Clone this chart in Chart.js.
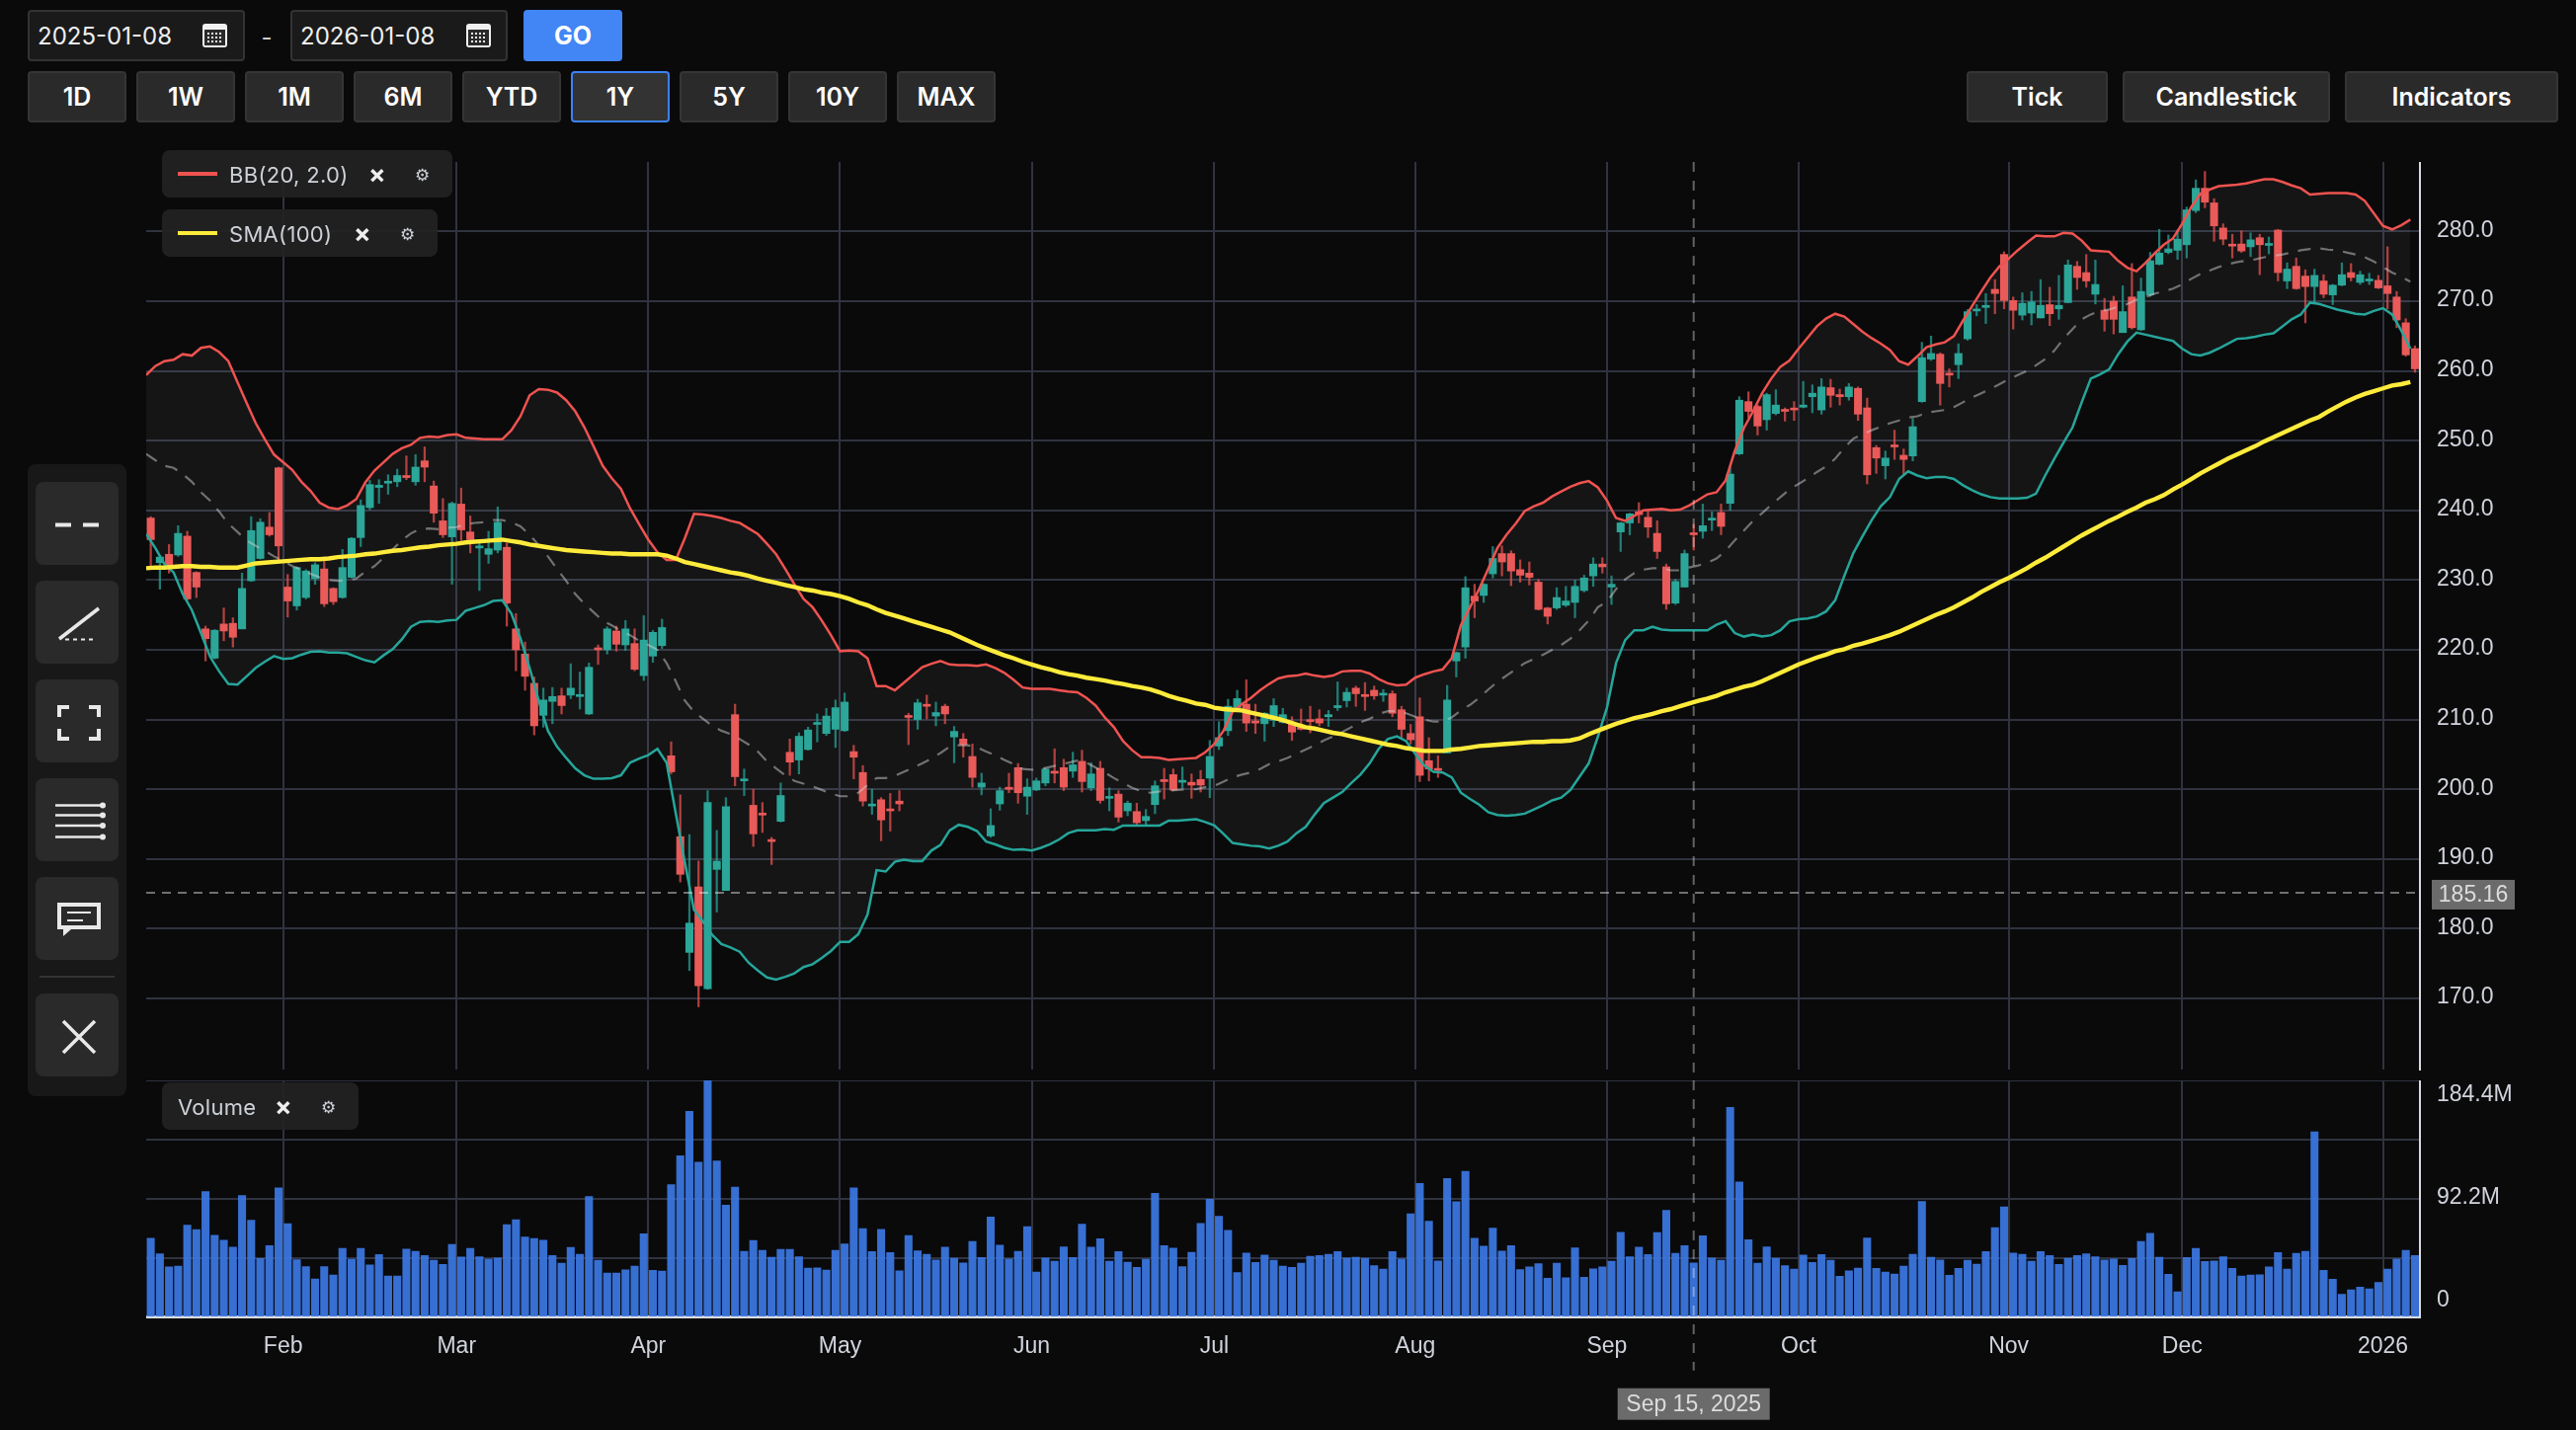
<!DOCTYPE html>
<html><head><meta charset="utf-8">
<style>
html,body{margin:0;padding:0;background:#0a0a0b;width:2608px;height:1448px;overflow:hidden;font-family:Inter,sans-serif}
.a{position:absolute;box-sizing:border-box}
.inp{background:#1a1a1a;border:2px solid #333;border-radius:4px;color:#f0f0f0;font-size:24px;line-height:50px;padding-left:8px}
.btn{background:#2a2a2a;border:2px solid #353535;border-radius:4px;color:#fff;font-size:25px;font-weight:600;text-align:center;line-height:49px}
.btn.on{background:#333;border-color:#3b82f6}
.go{background:#4285f4;border-radius:4px;color:#fff;font-size:25px;font-weight:700;text-align:center;line-height:53px}
.pill{background:rgba(34,34,34,.93);border-radius:8px;color:#cdd1d8;font-size:22px;letter-spacing:.3px;z-index:5}
.pill span{position:absolute;top:0;line-height:50px;white-space:nowrap}
.pill i{position:absolute;top:22px;height:4px;left:16px;width:40px}
canvas{position:absolute;display:block}
svg{position:absolute;left:0;top:0;z-index:6;pointer-events:none}
</style></head><body>
<canvas id="mainChart" style="left:148px;top:164px" width="2460" height="930"></canvas>
<canvas id="volChart" style="left:148px;top:1094px" width="2460" height="354"></canvas>

<div class="a inp" style="left:28px;top:10px;width:220px;height:52px">2025-01-08</div>
<div class="a" style="left:262px;top:10px;width:16px;color:#ccc;font-size:24px;line-height:56px;text-align:center">-</div>
<div class="a inp" style="left:294px;top:10px;width:220px;height:52px">2026-01-08</div>
<div class="a go" style="left:530px;top:10px;width:100px;height:52px">GO</div>
<div id="rangeRow"></div>
<div class="a btn" style="left:1991px;top:72px;width:143px;height:52px">Tick</div>
<div class="a btn" style="left:2149px;top:72px;width:210px;height:52px">Candlestick</div>
<div class="a btn" style="left:2374px;top:72px;width:216px;height:52px">Indicators</div>

<div class="a pill" style="left:164px;top:152px;width:294px;height:48px"><i style="background:#ef5350"></i><span style="left:68px">BB(20, 2.0)</span><span style="left:209px;font-weight:700;font-size:26px;color:#eee">×</span><span style="left:256px;font-size:17px">⚙</span></div>
<div class="a pill" style="left:164px;top:212px;width:279px;height:48px"><i style="background:#ffeb3b"></i><span style="left:68px">SMA(100)</span><span style="left:194px;font-weight:700;font-size:26px;color:#eee">×</span><span style="left:241px;font-size:17px">⚙</span></div>
<div class="a pill" style="left:164px;top:1096px;width:199px;height:48px"><span style="left:16px">Volume</span><span style="left:114px;font-weight:700;font-size:26px;color:#eee">×</span><span style="left:161px;font-size:17px">⚙</span></div>

<svg width="2608" height="1448" viewBox="0 0 2608 1448">
 <g fill="#f0f0f0"><rect x="205" y="24" width="25" height="24" rx="3"/><rect x="472" y="24" width="25" height="24" rx="3"/></g>
 <g fill="#2a2a2a"><rect x="207" y="30" width="21" height="16"/><rect x="474" y="30" width="21" height="16"/></g>
 <g stroke="#f0f0f0" stroke-width="2" stroke-dasharray="2 2" fill="none">
  <path d="M210 34H226M210 38H226M210 42H226M477 34H493M477 38H493M477 42H493"/>
 </g>

 <rect x="28" y="470" width="100" height="640" rx="8" fill="#181818"/>
 <g fill="#2a2a2a">
  <rect x="36" y="488" width="84" height="84" rx="8"/>
  <rect x="36" y="588" width="84" height="84" rx="8"/>
  <rect x="36" y="688" width="84" height="84" rx="8"/>
  <rect x="36" y="788" width="84" height="84" rx="8"/>
  <rect x="36" y="888" width="84" height="84" rx="8"/>
  <rect x="36" y="1006" width="84" height="84" rx="8"/>
 </g>
 <line x1="40" y1="989" x2="116" y2="989" stroke="#333" stroke-width="2"/>
 <g stroke="#e8e8e8" fill="none">
  <path d="M56 531.5H72M84 531.5H100" stroke-width="4"/>
  <path d="M60 647L100 616" stroke-width="3.5"/>
  <path d="M66 647.5H96" stroke-width="2" stroke-dasharray="4 4"/>
  <path d="M70 716H60V726M90 716H100V726M60 738V748H70M100 738V748H90" stroke-width="4"/>
  <path d="M56 815.5H104M56 825.5H104M56 836H104M56 847.5H104" stroke-width="2.5"/>
  <rect x="60" y="916" width="40" height="23" stroke-width="4"/>
  <path d="M68 924H92M68 932H84" stroke-width="2"/>
  <path d="M64 1034L96 1066M96 1034L64 1066" stroke-width="3.5"/>
 </g>
 <g fill="#e8e8e8"><circle cx="104" cy="815.5" r="3"/><circle cx="104" cy="825.5" r="3"/><circle cx="104" cy="836" r="3"/><circle cx="104" cy="847.5" r="3"/><path d="M64 941L72 941L64 948Z"/></g>
</svg>

<script src="https://cdn.jsdelivr.net/npm/chart.js@4"></script>
<script>
const rangeButtons=['1D','1W','1M','6M','YTD','1Y','5Y','10Y','MAX'];
const activeRange='1Y';

const monthTicks=[14.5,33.5,54.5,75.5,96.5,116.5,138.5,159.5,180.5,203.5,222.5,244.5];
const monthLabels=['Feb','Mar','Apr','May','Jun','Jul','Aug','Sep','Oct','Nov','Dec','2026'];
const priceTicks=[170,180,190,200,210,220,230,240,250,260,270,280];
const volumeTicks=[0,46.1,92.2,138.3,184.4];
const volumeTickLabels=['0','','92.2M','','184.4M'];

const refPrice=185.16;
const refPriceLabel='185.16';
const crossIndex=169;
const crossLabel='Sep 15, 2025';

const candleOpen=[238.9,232.5,233.7,233.6,236.3,231.1,223,218.8,223.7,223.8,
223,229.9,233.1,237.6,246.1,229,226.3,227.5,230.2,231.6,
228.8,227.5,230.4,236.1,240.4,243.3,243.9,244.1,245,244.1,
247.1,243.5,238.5,236.2,240.9,236.9,234.6,233.7,234.3,234.7,
223,219.4,215.2,210.6,212.6,213.4,213.5,213.3,210.8,220.2,
220,222.7,220.7,220.9,216.3,219.1,220.6,204.8,193.2,176.6,
186,171.4,188.5,185.5,210.7,201.2,197.7,196.5,192.6,195.4,
205.3,204.2,205.7,209.3,208,208.6,208.4,205.4,202.4,197.6,
198.5,197,198.3,210.5,210,212,210.5,211.9,207.5,207.2,
204.7,200.3,193.3,197.9,200.1,203.1,199,199.9,200.9,202.5,
203.1,202.6,204,200.2,203,198.7,199.3,196.9,196.8,195.5,
197.8,201.2,202.1,201,201,201.4,201.6,206.2,208.4,211.7,
212.2,209.7,209.4,209.9,209.6,209.6,208.8,209.8,210.1,210.4,
211.7,212.7,214.5,213.5,214.2,213.5,213.7,211.4,208,210.4,
204.1,202.9,205.2,218.4,220.4,227.7,227.8,230.9,233.8,233.8,
231.5,231,229.7,226,226,226.4,226.8,228.5,230.6,232.3,
229,236.9,238.2,239.8,239,236.7,231.9,226.7,229,236.7,
237,238.6,239.7,241,248.1,255.6,254.9,253,253.9,254.3,
254.5,254.8,256.3,254.4,257.6,256.6,256.3,257.5,254.7,249,
246.4,249.2,247.9,247.8,255.6,261.7,262.4,259.6,260.9,264.6,
268.6,269.1,271.7,276.7,270.1,268,268.3,267.6,269.5,268.9,
269.8,275,274.1,271,268.7,270,265.5,270.6,265.9,270.9,
275.3,277,277.3,278.1,283,286.2,284.1,280.5,278.1,278.2,
277.8,279.1,278,280.2,272.9,275,273.6,272.1,272.9,270.9,
272.3,274.1,272.7,272.9,273,272.2,270.6,266.9,263.2];

const candleClose=[235.8,233.3,232.2,236.7,227.3,229,221.6,222.8,222.7,221.8,
228.8,237.1,238.3,236.5,234.9,227,231.8,231.3,232.2,226.6,
226.9,231.8,236,240.7,243.7,243.6,244,245,244.7,246.2,
246.2,239.6,236.5,241,237.2,235.8,234.9,234.5,238.3,226.7,
220,216.2,209.1,212.8,213.3,212,214.5,213.4,217.5,220,
223,220.8,223,217.2,221.4,222.5,223.2,202.5,187.8,180.8,
171.8,198.1,189.7,197.5,201.8,201.4,193.6,196.3,192.5,199.1,
203.9,207.6,208.5,209.5,210.5,211.7,212.5,204.6,198.3,197.8,
195.6,196.9,197.9,210.3,212.4,211.9,211,210.8,208.3,206.4,
201.7,200.9,194.8,199.8,200,199.5,200.3,201.2,202.9,202.3,
200.3,203.5,201.1,202.2,198.4,198.8,196,198,195.2,196.1,
200.5,201.1,199.9,201.1,200.6,200.6,204.7,207.4,211.9,213,
209.5,209.5,210.9,212,210.7,208.2,208.6,209.7,209.5,210.7,
212,213.9,213.7,213.3,213.4,213.6,210.9,208.6,207.1,202,
202.9,202.7,212.8,219.6,228.9,227,229.4,233.1,232.6,231.3,
230.7,230.4,225.8,224.8,227.5,227,229.1,230.3,232.3,231.9,
229.4,238.2,239.5,239.4,237.6,234.1,226.6,229.8,233.8,236.5,
237.8,238.7,237.7,245.2,255.8,254.2,252.1,256.6,255.1,254.2,
254.4,255.1,256.8,257.7,256.5,256.3,257.7,253.8,245.1,247.5,
247.5,249.1,247.3,252,261.9,262.5,258.2,259.4,262.5,268.5,
268.7,269.4,271.1,270.1,268.7,269.7,269.9,269.4,268.2,269.4,
275.2,273.4,272.9,272.4,267.4,267.4,268.5,266.2,271.4,275.8,
276.9,277.5,278.9,283.1,286.2,284.2,280.8,278.9,277.9,277.2,
278.8,278.1,278.2,274.1,274.6,271.8,272.1,273.7,271,272.3,
273.8,273.4,273.8,273,271.9,271.1,267.3,262.3,260.3];

const candleHigh=[239.1,233.4,235.1,237.8,237,231.2,223.4,222.9,226,224.6,
231,239.1,238.8,239.7,246.2,230.8,231.9,231.5,232.5,232.7,
228.9,234.4,236.1,241.5,244.3,244.4,245.1,245.9,247.8,248,
249.1,244.2,241.7,241.2,243.2,239.2,235.6,237,240.5,235.3,
225.2,221.1,216.1,214.5,214.6,214.5,218,216.8,218.1,220.7,
223.3,223.4,224.2,223,224.9,222.8,224.4,206.8,199.2,193.5,
189.7,199.8,194.1,198.8,212.2,202.9,200,198.1,193.1,200.9,
207.2,208.1,208.9,210.8,211.6,212.8,213.8,206.3,203.4,200,
198.8,199.4,199.8,210.9,212.9,213.5,212.5,212.2,209,208,
206.5,202.3,197.2,200.3,202.3,203.7,201.5,201.6,203,205.8,
204.3,205.3,205.6,203.8,204,200.2,199.8,198.3,198,197.1,
201.2,203,202.9,203.2,202.2,202.7,207,209.7,212.9,214.2,
215.7,212.2,211,213,211.6,210.4,211.5,211.9,211.4,211.3,
215.4,214.5,214.8,215.3,214.8,214.3,214.1,211.9,209.3,213.1,
207.4,204.8,214.9,219.7,230.5,229.4,229.5,234.8,234.9,234.2,
232.9,232.6,230.1,226.1,228.9,229.1,230,230.7,233.2,233.2,
230.6,238.3,239.6,241.1,240,238.5,232.3,230.1,234.3,238,
240.9,239.8,240.9,246.2,256.3,257,255.1,256.8,257.3,254.7,
255.6,258.5,258,258.9,258.8,257.4,258.2,257.7,256.1,249.3,
248.5,251.5,248.8,253.2,264.1,265,262.6,260.3,263.9,268.8,
269.5,271.1,273.1,277.1,270.6,271.2,271.4,273.1,272,273.7,
275.9,275.7,276.7,275.9,270.4,270.7,272.2,275.4,273.3,277,
280.3,279.5,280.2,283.5,287.4,288.6,284.7,281.1,279.6,280.1,
279.8,279.6,279.2,280.3,275.5,276.2,274.5,274.6,273.8,272.4,
275.5,275.4,274.3,274,273.7,277.8,271.4,267.5,263.6];

const candleLow=[232,228.7,231,233.4,227.1,227.5,218.4,218.7,221.3,220.4,
223,229.8,233,236.3,232.9,224.7,225.7,227.3,229.4,226.2,
226.5,227.4,230.3,234.8,240.1,241,242.3,243.4,244.4,243.6,
244.1,238.3,236.1,229.4,235.7,233.9,228.5,232.4,233.9,223.4,
217,214.2,207.8,208.9,209.4,210.8,213,211.5,210.7,217.9,
219.4,219.8,219.9,217,215.6,218.2,220.2,202.2,186.7,174,
168.8,171.3,182.4,185.5,200.5,199.1,191.8,193.8,189.2,195.3,
202,202.2,205.6,206.8,207.7,206,208.3,201.5,197.6,196.4,
192.6,194,196.9,206.4,208.6,210.1,209.1,209.4,203.8,204.6,
200.3,199.2,193.1,197,199.5,198,196.4,199.8,200.5,200.9,
199.8,201.7,199.6,199.8,198,196.9,195.3,196.2,194.9,194.9,
196.5,198.6,199.8,200.2,198.7,199.6,198.8,205.7,207.7,211.5,
208.3,208,206.9,209,209.5,207,208.5,208.1,209.1,209,
211.3,211.8,211.9,211.3,212.9,212.6,210.4,207.4,206.5,201.1,
201.2,201.7,205.2,216.1,218.8,224.6,226.8,230.3,230.6,229.2,
229.7,229.3,225.7,223.7,225.8,226.2,224.6,228.3,229.1,231,
226.5,234.1,236.5,238.2,236.1,233.1,225.8,226.5,229,234.3,
236,237.1,236.5,240,248,253.3,250.8,251.5,253.7,252.8,
252.9,254.7,254,253.8,254.8,255.1,255.8,252.9,243.8,245.3,
244.5,247.3,245.2,247.1,255.5,261.5,255.1,257.7,258.9,264.4,
267.9,266.8,268.2,268.9,266,267.3,266.6,267.6,266.5,267.4,
269.8,271.7,272,269.6,265.7,265.3,265.5,266,265.8,270.7,
275.2,276.8,276,276.2,282.7,283.4,278.6,278.1,276.2,277,
276.4,273.8,276.8,272.9,271.8,271.7,266.9,269.9,270.5,269.5,
272.2,272.9,272.4,272.4,271.8,268.9,266.2,262.1,259.8];

const bbUpper=[259.4,260.7,261.4,261.6,262.4,262.2,263.3,263.5,262.7,261.4,
258.4,255.4,252.5,250.2,248,246.9,245.8,244.1,242.8,241.1,
240.4,240.2,240.7,241.6,244,245.7,246.9,248.1,248.9,249.4,
250.4,250.6,250.5,250.8,250.9,250.4,250.3,250.2,250.2,250.2,
251.5,253.5,256.5,257.4,257.3,256.9,255.8,254.2,251.9,249.2,
246.4,244.6,243.1,240.3,238,235.8,234,232.9,232.9,236,
239.5,239.4,239.2,238.9,238.5,238.2,237.4,236.6,235.2,233.7,
231.6,229.4,227.3,226.1,224.2,222.1,219.8,219.9,219.8,218.8,
214.8,214.8,214.2,215.3,216.4,217.5,218,218.4,217.9,217.8,
217.8,217.7,217.9,217.4,216.7,215.7,214.6,214.4,214.4,214.4,
214.2,214,213.9,213.1,212,210.3,208.9,206.9,205.6,204.6,
204.6,204.5,204.2,204.3,204.4,204.5,205.3,206.5,208.4,211.1,
212.2,213.1,214.2,215.1,215.9,216.2,216.3,216.6,216.3,216.1,
216.3,216.9,217,217,216.6,215.8,215.2,214.9,215,216,
216.5,216.9,217.2,218.8,223.5,226.1,228.7,231.6,234.6,236.5,
238.1,239.9,240.6,241.1,242,242.7,243.4,243.9,244.2,243.3,
241.4,238.9,238.5,239.2,240,240.1,240.2,240,240.1,240.7,
241.5,242.3,242.6,244.3,248.5,251.8,254.2,256.8,258.9,260.6,
261.5,263.2,264.8,266.4,267.5,268.2,267.8,266.7,265.6,264.7,
263.9,263,261.4,260.9,262.1,263.4,263.8,264.1,265,267.2,
269.3,271.4,273.4,275,276.1,277.3,278.4,279.4,279.3,279.3,
279.8,279.7,278.7,277.3,277.2,277.1,275.8,274.8,274.3,275.5,
276.9,278.1,279,281.1,283.5,285.4,286,286.5,286.6,286.7,
286.9,287.2,287.5,287.5,287.1,286.6,286.2,285.3,285.4,285.5,
285.5,285.5,285.3,284.4,282.6,280.8,280.3,280.9,281.7];

const bbLower=[236.6,234.6,232.3,231.1,228,225.7,222.4,219,216.9,215.1,
215,216.2,217.4,218.3,219.1,218.7,218.8,219.3,219.7,219.8,
219.6,219.6,219.5,219,218.5,218.2,219.2,220.1,221.5,223.3,
224,224.1,224,224.2,224.3,225.6,226,226.4,227,227.1,
225.2,221.6,217.4,212.7,208.4,206.1,204.5,203,202,201.5,
201.5,201.6,202,203.8,204.4,204.9,205.8,203.8,196.6,189.5,
182.7,181,179.1,177.8,177.3,176.7,175.1,174,173,172.7,
173.1,173.6,174.5,174.9,175.8,176.8,178.1,178.1,179.2,182,
188.4,188.2,189.6,189.9,189.7,189.7,191.2,192,194.1,194.9,
194.6,194,192.5,192.1,191.6,191.3,191.4,191.2,191.6,192.1,
192.8,193.7,194.1,194.1,194.1,194.3,194.2,194.8,194.8,194.8,
194.8,194.8,195.5,195.5,195.6,195.7,195.3,194.8,193.6,192.3,
192.1,191.9,191.8,191.5,191.9,192.5,193.7,194.6,196.4,198,
198.8,199.6,200.9,202.1,203.7,205.8,207.2,207.6,206.9,205.1,
203.4,202.5,202.4,201.7,199.5,198.6,197.8,196.7,196.3,196.2,
196.3,196.5,197.1,197.7,198.4,198.8,199.9,201.8,203.7,207.5,
211.7,218.1,221.4,222.8,222.8,223.3,222.9,222.8,222.8,222.8,
222.8,222.8,223.6,224.1,222.4,221.9,222.2,221.9,222.1,222.8,
224.1,224.4,224.5,224.8,225.5,227.1,230.6,233.9,236.3,238.6,
240.6,241.9,244.5,245.6,245,244.6,244.8,244.8,244.5,243.6,
242.9,242.3,241.9,241.7,241.7,241.7,241.8,242.4,245,247.4,
249.7,251.9,255.5,258.9,259.5,260.2,262.4,264.2,265.5,265.2,
264.9,264.6,264.3,263.2,262.4,262.2,262.6,263.2,263.9,264.6,
264.7,264.9,265.2,265.4,266.4,267.4,268.1,269.8,269.6,269.2,
268.8,268.5,268.2,268.1,268.6,269,268.1,265.8,263.2];

const bbMiddle=[248.1,247.2,246.4,246.1,245.2,244.1,242.6,241.4,239.8,238.1,
236.9,235.7,234.9,234.2,233.4,232.8,232,231.5,230.9,230.4,
230,229.9,230,230.2,231.2,232,233.2,234.4,235.7,236.7,
237.3,237.4,237.3,237.5,237.6,238,238.2,238.3,238.6,238.6,
238.3,237.7,236.5,235,233.4,231.6,229.9,228,226.6,225.4,
224.2,223.5,222.7,222.1,221.3,220.7,220,218.1,215.5,212.7,
211.1,210.1,209.1,208.4,207.9,207.2,206.4,205.4,204,203,
202,201.2,200.8,200.4,199.9,199.4,199,199,199.5,200.6,
201.6,201.6,201.9,202.5,203.1,203.7,204.4,205.2,206.1,206.3,
206.3,206,205.4,204.9,204.2,203.6,202.9,202.8,202.9,203.2,
203.5,203.8,204.1,203.8,203.1,202.4,201.6,200.9,200.2,199.7,
199.5,199.7,199.8,199.9,200,200,200.3,200.5,201.1,201.7,
202.1,202.4,202.9,203.6,204,204.5,205.1,205.7,206.3,207,
207.6,208.2,208.9,209.6,210.1,210.8,211.2,211.2,210.9,210.4,
210,209.7,209.7,210.3,211.3,212.1,213.1,214.3,215.4,216.3,
217.2,218.1,218.7,219.3,220,220.7,221.6,222.8,224.2,226.1,
226.9,228.7,230.1,231,231.5,231.7,231.7,231.4,231.4,231.8,
232.1,232.5,233.1,234.2,235.7,237.1,238.5,239.6,240.8,241.9,
243,243.8,244.6,245.5,246.3,247.4,249,250.3,250.9,251.5,
252,252.5,252.9,253.3,253.5,254,254.2,254.4,254.8,255.5,
256.2,256.8,257.4,258.1,258.8,259.4,260,260.8,261.7,262.9,
264.6,266,267.4,268.1,268.6,268.8,269.2,269.6,270.2,270.6,
271.1,271.4,271.8,272.4,273.2,273.9,274.4,274.9,275.3,275.6,
275.8,276,276.3,276.5,276.7,277,277.3,277.5,277.6,277.4,
277.3,277,276.7,276.3,275.7,274.9,274.1,273.5,272.8];

const sma100=[231.7,231.8,231.8,231.9,232,232,231.9,231.9,231.8,231.8,
231.8,232.1,232.4,232.5,232.6,232.7,232.8,232.9,233,233,
233.1,233.3,233.4,233.5,233.7,233.8,234,234.2,234.3,234.5,
234.7,234.8,235,235.1,235.2,235.4,235.5,235.6,235.7,235.8,
235.6,235.4,235.1,234.9,234.7,234.5,234.3,234.2,234.1,234,
233.9,233.8,233.8,233.7,233.7,233.7,233.7,233.5,233.1,232.6,
232.3,232,231.7,231.4,231.1,230.9,230.6,230.2,229.9,229.6,
229.3,229,228.7,228.5,228.2,228,227.7,227.3,226.8,226.4,
225.8,225.3,224.9,224.5,224.1,223.7,223.3,222.9,222.5,221.9,
221.3,220.7,220.2,219.7,219.2,218.8,218.3,217.9,217.5,217.2,
216.8,216.5,216.3,216,215.8,215.6,215.3,215.1,214.8,214.6,
214.3,213.9,213.4,213,212.7,212.3,212.1,211.7,211.5,211.4,
211.3,211,210.7,210.4,210.1,209.7,209.3,208.9,208.7,208.4,
208.1,207.9,207.6,207.3,207,206.7,206.4,206.2,205.9,205.7,
205.5,205.5,205.5,205.7,205.8,206,206.2,206.3,206.4,206.5,
206.6,206.7,206.8,206.8,206.9,206.9,207,207.3,207.9,208.4,
208.9,209.4,209.8,210.2,210.5,210.8,211.2,211.5,211.9,212.3,
212.7,213,213.4,213.9,214.3,214.7,215,215.5,216.1,216.7,
217.3,217.9,218.4,218.9,219.3,219.8,220.1,220.6,220.9,221.3,
221.7,222.1,222.6,223.2,223.8,224.4,225,225.5,226.1,226.8,
227.5,228.3,229,229.7,230.3,231,231.7,232.5,233.2,234,
234.8,235.6,236.4,237.1,237.8,238.5,239.1,239.8,240.4,241.1,
241.6,242.2,243,243.7,244.5,245.3,246,246.7,247.4,248,
248.6,249.2,249.9,250.5,251.1,251.7,252.3,252.9,253.4,254.2,
254.9,255.6,256.2,256.7,257.1,257.5,257.9,258.1,258.4];

const volumeM=[61.5,49.4,39.2,39.7,71.7,68.1,97.8,63.8,59.9,54.5,
94.8,75.5,45.6,55.6,100.6,72.7,44.8,39.4,29.7,39.4,
32.8,53.5,45.1,53.5,40.7,48.7,32,32,53,51.2,
47.9,44.3,41,56.6,46.9,53.5,47.1,45.1,46.1,72,
75.8,62.5,61.2,59.9,47.9,42,54.3,48.9,94,44.3,
34.3,34.3,36.9,39.7,65,36.4,35.9,103.2,125.7,160.3,
120.6,184.4,121.6,87.3,101.2,51.2,59.7,52,46.6,52.8,
52.8,47.1,38.2,38.4,36.6,52,57.1,100.6,68.9,51,
68.4,50.2,36.1,63.5,51.7,48.9,44.6,54.5,45.8,42.3,
58.9,46.4,77.9,56.1,45.3,51.2,70.4,35.1,46.1,43.5,
54.8,46.4,72.5,54.5,61,43.5,51,42.8,38.7,45.1,
96.5,55.6,53.8,39.4,50.5,73,91.9,78.6,67.6,34.8,
49.9,42.5,48.4,44.3,39.7,38.7,42,47.4,47.9,48.9,
51,46.1,46.6,45.8,40,37.4,51,45.3,80.4,104.2,
74.8,43.8,108,89.9,113.5,61.5,55.3,69.4,51.5,55.6,
37.1,39.2,41.7,30.2,42,30.7,54,31,37.6,39.2,
43.5,66.1,47.1,54.5,48.7,65.8,83.2,49.7,55.6,42.3,
63.3,46.1,44.3,163.4,105.3,60.2,42,54.8,45.8,40,
37.4,48.4,42.5,48.7,44.3,31.8,36.1,38.2,61.7,37.9,
35.1,33.5,39.7,48.9,90.1,46.6,44.6,32.5,37.9,44.3,
41.2,51,69.7,85.8,49.9,48.9,43.5,51,47.9,41,
45.8,47.9,49.4,47.1,44.6,45.3,40.2,45.6,58.9,65.3,
46.6,33.3,19.7,46.4,53.5,43.3,43.8,47.1,37.9,32,
32.8,33,39.2,50.2,37.4,49.7,51.2,144.4,36.4,29.5,
17.7,21.3,23.3,22,27.1,37.4,45.3,52,47.9];

const UP='#2ba698', DOWN='#e95a59', UP_WICK='rgba(38,166,154,.72)', DOWN_WICK='rgba(239,83,80,.72)';
const TEXT='#d1d4dc', GRID='#30333f', AXIS='#d8dae0';
const FONT={family:'"Liberation Sans",Arial,sans-serif',size:23};

// range buttons
const row=document.getElementById('rangeRow');
rangeButtons.forEach((t,i)=>{
  const d=document.createElement('div');
  d.className='a btn'+(t===activeRange?' on':'');
  d.style.cssText='left:'+(28+110*i)+'px;top:72px;width:100px;height:52px';
  d.textContent=t;
  row.appendChild(d);
});

const up=candleOpen.map((o,i)=>candleClose[i]>=o);
const bodyColors=up.map(u=>u?UP:DOWN);
const wickColors=up.map(u=>u?UP_WICK:DOWN_WICK);
const idx=candleOpen.map((_,i)=>i);
const linePts=a=>a.map((v,j)=>({x:j-0.5,y:v}));   // band and SMA vertices sit on the left edge of each session

// keep the plot rectangle pinned and nudge tick labels
function pin(scale,size){
  if(scale.isHorizontal()) scale.height=size; else scale.width=size;
  scale.paddingTop=scale.paddingBottom=scale.paddingLeft=scale.paddingRight=0;
}
function shiftLabels(scale,fn){
  if(scale.__shifted) return;
  scale.__shifted=true;
  const orig=scale._computeLabelItems;
  scale._computeLabelItems=function(ca){
    const items=orig.call(this,ca);
    items.forEach((it,i)=>{it.options.translation[1]+=fn(this.ticks[i].value);});
    return items;
  };
}
const xBase=(height,showLabels,border)=>({
  type:'linear',min:-0.5,max:248.55,offset:false,
  grid:{color:GRID,lineWidth:2,drawTicks:false,offset:false},
  border:border?{display:true,color:AXIS,width:3}:{display:false},
  afterBuildTicks:s=>{s.ticks=monthTicks.map(v=>({value:v}));},
  afterFit:s=>pin(s,height),
  ticks:{display:showLabels,autoSkip:false,maxRotation:0,minRotation:0,color:TEXT,font:FONT,padding:16,
    callback:v=>monthLabels[monthTicks.indexOf(v)]}
});

function dash(ctx,x1,y1,x2,y2,pattern,color,width){
  ctx.save();ctx.setLineDash(pattern);ctx.strokeStyle=color;ctx.lineWidth=width;
  ctx.beginPath();ctx.moveTo(x1,y1);ctx.lineTo(x2,y2);ctx.stroke();ctx.restore();
}
function tag(ctx,text,cx,cy,w,h){
  ctx.save();ctx.fillStyle='#6b6b6b';ctx.fillRect(cx-w/2,cy-h/2,w,h);
  ctx.fillStyle='#dcdcdc';ctx.font='23px "Liberation Sans",Arial,sans-serif';
  ctx.textAlign='center';ctx.textBaseline='middle';ctx.fillText(text,cx,cy+1);ctx.restore();
}
const mainOverlay={id:'mainOverlay',afterDraw(c){
  const ctx=c.ctx,a=c.chartArea,x=c.scales.x.getPixelForValue(crossIndex),y=c.scales.y.getPixelForValue(refPrice);
  dash(ctx,a.left,y,a.right,y,[9,7],'rgba(255,255,255,.42)',2);
  dash(ctx,x,a.top,x,c.height,[10,9],'rgba(255,255,255,.36)',2);
  tag(ctx,refPriceLabel,a.right+54,y+2,84,30);
}};
const volOverlay={id:'volOverlay',afterDraw(c){
  const ctx=c.ctx,a=c.chartArea,x=c.scales.x.getPixelForValue(crossIndex);
  dash(ctx,x,a.top,x,a.bottom+54,[10,9],'rgba(255,255,255,.36)',2);
  tag(ctx,crossLabel,x,a.bottom+88,154,32);
}};

new Chart(document.getElementById('mainChart'),{
  plugins:[mainOverlay],
  data:{datasets:[
    {type:'bar',label:'Wick',grouped:false,order:6,barThickness:1.6,borderSkipped:false,
     backgroundColor:wickColors,data:idx.map(i=>({x:i,y:[candleLow[i],candleHigh[i]]}))},
    {type:'bar',label:'Body',grouped:false,order:5,barThickness:7.4,minBarLength:2,borderSkipped:false,
     backgroundColor:bodyColors,data:idx.map(i=>({x:i,y:[candleOpen[i],candleClose[i]]}))},
    {type:'line',label:'BB upper',order:3,data:linePts(bbUpper),borderColor:'#ef5350',borderWidth:2.5,pointRadius:0,tension:0,
     fill:{target:3},backgroundColor:'rgba(255,255,255,.048)'},
    {type:'line',label:'BB lower',order:3,data:linePts(bbLower),borderColor:'#26a69a',borderWidth:2.5,pointRadius:0,tension:0,fill:false},
    {type:'line',label:'BB middle',order:3,data:linePts(bbMiddle),borderColor:'rgba(205,205,205,.5)',borderWidth:2.2,borderDash:[13,10],pointRadius:0,tension:0,fill:false},
    {type:'line',label:'SMA(100)',order:1,data:linePts(sma100),borderColor:'#ffeb3b',borderWidth:4.4,pointRadius:0,tension:0,fill:false}
  ]},
  options:{
    responsive:false,animation:false,events:[],
    layout:{padding:0},
    plugins:{legend:{display:false},tooltip:{enabled:false},filler:{drawTime:'beforeDatasetsDraw',propagate:false}},
    scales:{
      x:xBase(11,false,false),
      y:{position:'right',min:159.8,max:289.97,
        grid:{color:GRID,lineWidth:2,drawTicks:false},
        border:{display:true,color:AXIS,width:2},
        afterBuildTicks:s=>{s.ticks=priceTicks.map(v=>({value:v}));},
        afterFit:s=>{pin(s,158);shiftLabels(s,()=>-1);},
        ticks:{color:TEXT,font:FONT,padding:17,crossAlign:'near',autoSkip:false,callback:v=>v.toFixed(1)}
      }
    }
  }
});

new Chart(document.getElementById('volChart'),{
  plugins:[volOverlay],
  data:{datasets:[
    {type:'bar',label:'Volume',data:idx.map(i=>({x:i,y:volumeM[i]})),backgroundColor:'rgba(60,120,228,.92)',barThickness:7.4,borderSkipped:false}
  ]},
  options:{
    responsive:false,animation:false,events:[],
    layout:{padding:0},
    plugins:{legend:{display:false},tooltip:{enabled:false}},
    scales:{
      x:xBase(114.3,true,true),
      y:{position:'right',min:0,max:184.4,
        grid:{color:GRID,lineWidth:2,drawTicks:false},
        border:{display:true,color:AXIS,width:2},
        afterBuildTicks:s=>{s.ticks=volumeTicks.map(v=>({value:v}));},
        afterFit:s=>{pin(s,158);shiftLabels(s,v=>v===0?-17:(v===184.4?15:-1));},
        ticks:{color:TEXT,font:FONT,padding:17,crossAlign:'near',autoSkip:false,
          callback:v=>volumeTickLabels[volumeTicks.indexOf(v)]}
      }
    }
  }
});
</script>
</body></html>
